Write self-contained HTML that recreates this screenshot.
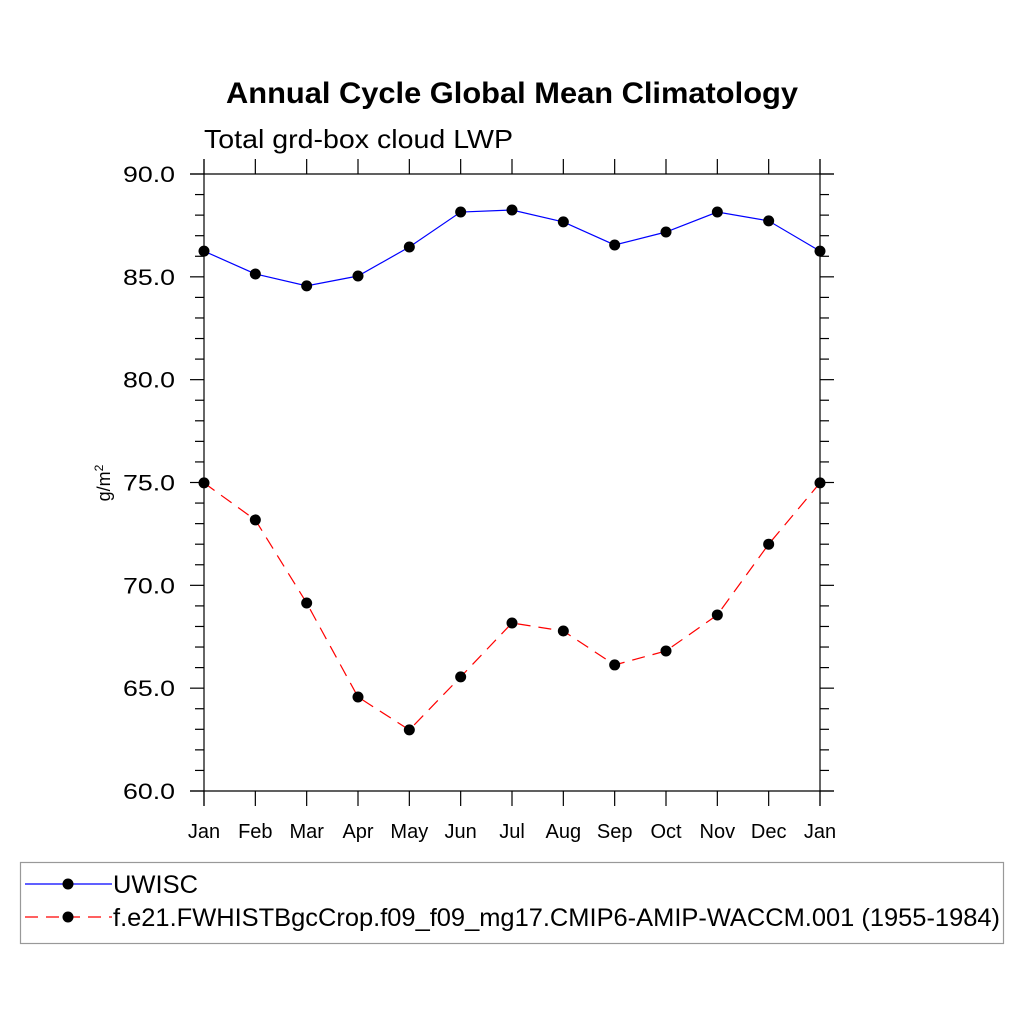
<!DOCTYPE html>
<html><head><meta charset="utf-8"><style>
html,body{margin:0;padding:0;background:#fff;}
svg{display:block;font-family:"Liberation Sans",sans-serif;}
</style></head><body>
<svg id="chart" width="1024" height="1024" viewBox="0 0 1024 1024">
<text x="226" y="103" font-size="30" font-weight="bold" textLength="572" lengthAdjust="spacingAndGlyphs">Annual Cycle Global Mean Climatology</text>
<text x="204" y="148" font-size="26" textLength="309" lengthAdjust="spacingAndGlyphs">Total grd-box cloud LWP</text>
<text transform="translate(110,483) rotate(-90)" text-anchor="middle" font-size="18">g/m<tspan dy="-7" font-size="12">2</tspan></text>
<g id="axes"></g>
<g id="series"></g>
<g id="legend">
<rect x="20.5" y="862.5" width="983" height="81" fill="none" stroke="#999" stroke-width="1.2"/>
<g>
<line x1="25" y1="884" x2="112" y2="884" stroke="#0000ff" stroke-width="1.2"/>
<circle cx="68" cy="884" r="5.5" fill="#000"/>
<text x="113" y="893" font-size="25" textLength="85" lengthAdjust="spacingAndGlyphs">UWISC</text></g>
<g>
<line x1="25" y1="917" x2="112" y2="917" stroke="#ff0000" stroke-width="1.2" stroke-dasharray="13,8"/>
<circle cx="68" cy="917" r="5.5" fill="#000"/>
<text x="113" y="926" font-size="25" textLength="887" lengthAdjust="spacingAndGlyphs">f.e21.FWHISTBgcCrop.f09_f09_mg17.CMIP6-AMIP-WACCM.001 (1955-1984)</text></g>
</g>
</svg>
<script>
const months = ["Jan","Feb","Mar","Apr","May","Jun","Jul","Aug","Sep","Oct","Nov","Dec","Jan"];
const uwisc = [86.25,85.14,84.56,85.04,86.45,88.15,88.25,87.67,86.55,87.18,88.15,87.72,86.25];
const model = [74.98,73.18,69.14,64.57,62.97,65.55,68.17,67.78,66.13,66.81,68.56,72.0,74.98];
const yTicks = [60,65,70,75,80,85,90];
const yTickLabels = ["60.0","65.0","70.0","75.0","80.0","85.0","90.0"];

const NS="http://www.w3.org/2000/svg";
const X0=204,X1=820,Y0=791,Y1=174,YMIN=60,YMAX=90;
const xs=i=>X0+(X1-X0)*i/(months.length-1);
const ys=v=>Y0-(v-YMIN)/(YMAX-YMIN)*(Y0-Y1);
function mk(tag,attrs,parent){const e=document.createElementNS(NS,tag);for(const k in attrs)e.setAttribute(k,attrs[k]);parent.appendChild(e);return e;}
const axes=document.getElementById('axes');
const st={stroke:"#000","stroke-width":1.2};
let l;
l=mk('line',Object.assign({x1:190,y1:Y1,x2:834,y2:Y1},st),axes);


l=mk('line',Object.assign({x1:190,y1:Y0,x2:834,y2:Y0},st),axes);


l=mk('line',Object.assign({x1:X0,y1:159,x2:X0,y2:806},st),axes);


l=mk('line',Object.assign({x1:X1,y1:159,x2:X1,y2:806},st),axes);


months.forEach((m,i)=>{
  const x=xs(i);
  mk('line',Object.assign({x1:x,y1:Y1-15,x2:x,y2:Y1},st),axes);
  mk('line',Object.assign({x1:x,y1:Y0,x2:x,y2:Y0+15},st),axes);
  const t=mk('text',{x:x,y:838,"text-anchor":"middle","font-size":20},axes);
  t.textContent=m;
  
  
});
for(let v=YMIN;v<=YMAX;v+=1){
  const y=ys(v),maj=(v%5===0);
  const len=maj?14:9;
  mk('line',Object.assign({x1:X0-len,y1:y,x2:X0,y2:y},st),axes);
  mk('line',Object.assign({x1:X1,y1:y,x2:X1+len,y2:y},st),axes);
}
yTicks.forEach((v,i)=>{
  const t=mk('text',{x:123,y:ys(v)+8,"font-size":22,textLength:52,lengthAdjust:"spacingAndGlyphs"},axes);
  t.textContent=yTickLabels[i];
  
  
});
const ser=document.getElementById('series');
function draw(vals,color,dash,name){
  const g=mk('g',{},ser);
  
  
  const p=mk('polyline',{points:vals.map((v,i)=>xs(i)+","+ys(v)).join(" "),fill:"none",stroke:color,"stroke-width":1.2},g);
  if(dash)p.setAttribute('stroke-dasharray',dash);
  vals.forEach((v,i)=>{
    const c=mk('circle',{cx:xs(i),cy:ys(v),r:5.5,fill:"#000"},g);
    
    
  });
}
draw(uwisc,"#0000ff",null,"series-uwisc");
draw(model,"#ff0000","13,8","series-model");
</script>
</body></html>
